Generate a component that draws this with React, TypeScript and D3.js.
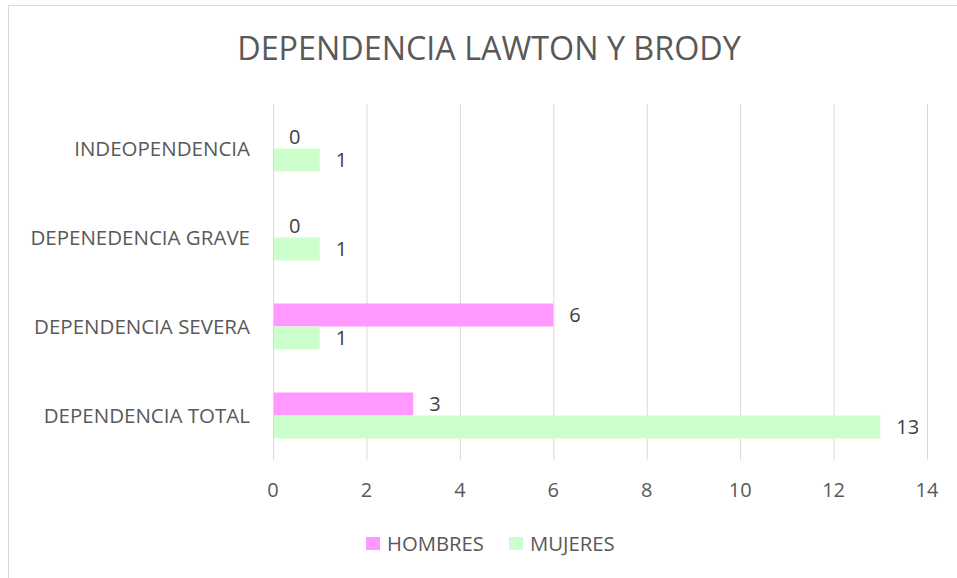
import React, { useRef, useEffect } from 'react';
import * as d3 from 'd3';

const categories = ['INDEOPENDENCIA', 'DEPENEDENCIA GRAVE', 'DEPENDENCIA SEVERA', 'DEPENDENCIA TOTAL'];
const hombres = [0, 0, 6, 3];
const mujeres = [1, 1, 1, 13];
const seriesNames = ['HOMBRES', 'MUJERES'];
const xTicks = [0, 2, 4, 6, 8, 10, 12, 14];

const colors = ['#FF99FF', '#CCFFCC'];
const FONT = '"Open Sans", "Liberation Sans", sans-serif';
const TEXT = '#595959';

export default function App() {
  const svgRef = useRef<SVGSVGElement>(null);

  useEffect(() => {
    document.body.style.margin = '0';
    const width = 957;
    const height = 578;
    const svg = d3.select(svgRef.current);
    svg.selectAll('*').remove();
    svg.attr('width', width).attr('height', height);

    // chart frame
    svg.append('rect')
      .attr('x', 8.5).attr('y', 5.5)
      .attr('width', 1000).attr('height', 1000)
      .attr('fill', '#fff')
      .attr('stroke', '#D9D9D9');

    svg.append('text')
      .attr('x', 489).attr('y', 60)
      .attr('text-anchor', 'middle')
      .attr('font-family', FONT)
      .attr('font-size', 32.3)
      .attr('fill', TEXT)
      .text('DEPENDENCIA LAWTON Y BRODY');

    const left = 273, right = 927, top = 104, bottom = 460;
    const x = d3.scaleLinear().domain([0, 14]).range([left, right]);
    const y = d3.scaleBand().domain(categories).range([top, bottom]).paddingInner(0).paddingOuter(0);
    const bandW = y.bandwidth();
    const barH = 23;

    // grid lines
    svg.append('g')
      .selectAll('line')
      .data(xTicks)
      .join('line')
      .attr('x1', (d) => x(d) + 0.5).attr('x2', (d) => x(d) + 0.5)
      .attr('y1', top).attr('y2', bottom)
      .attr('stroke', '#D9D9D9')
      .attr('stroke-width', 1);

    const rows = categories.map((c, i) => ({ c, vals: [hombres[i], mujeres[i]] }));

    rows.forEach((r) => {
      const center = (y(r.c) as number) + bandW / 2;
      r.vals.forEach((v, si) => {
        const by = center - barH + si * barH;
        svg.append('rect')
          .attr('x', x(0) + 1).attr('y', by)
          .attr('width', Math.max(0, x(v) - x(0) - 1))
          .attr('height', barH)
          .attr('fill', colors[si]);
        svg.append('text')
          .attr('x', x(v) + 16).attr('y', by + barH / 2)
          .attr('dy', '0.36em')
          .attr('font-family', FONT)
          .attr('font-size', 20)
          .attr('fill', '#404040')
          .text(v);
      });
      svg.append('text')
        .attr('x', 250).attr('y', center)
        .attr('dy', '0.36em')
        .attr('text-anchor', 'end')
        .attr('font-family', FONT)
        .attr('font-size', 20.5)
        .attr('fill', TEXT)
        .text(r.c);
    });

    // x axis labels
    svg.append('g')
      .selectAll('text')
      .data(xTicks)
      .join('text')
      .attr('x', (d) => x(d)).attr('y', 490)
      .attr('dy', '0.36em')
      .attr('text-anchor', 'middle')
      .attr('font-family', FONT)
      .attr('font-size', 20)
      .attr('fill', TEXT)
      .text((d) => d);

    // legend
    const legendX = [366, 509];
    seriesNames.forEach((name, i) => {
      svg.append('rect')
        .attr('x', legendX[i]).attr('y', 537)
        .attr('width', 14).attr('height', 13)
        .attr('fill', colors[i]);
      svg.append('text')
        .attr('x', legendX[i] + 21).attr('y', 543.5)
        .attr('dy', '0.36em')
        .attr('font-family', FONT)
        .attr('font-size', 20.3)
        .attr('fill', TEXT)
        .text(name);
    });
  }, []);

  return <svg ref={svgRef} style={{ display: 'block' }} />;
}
